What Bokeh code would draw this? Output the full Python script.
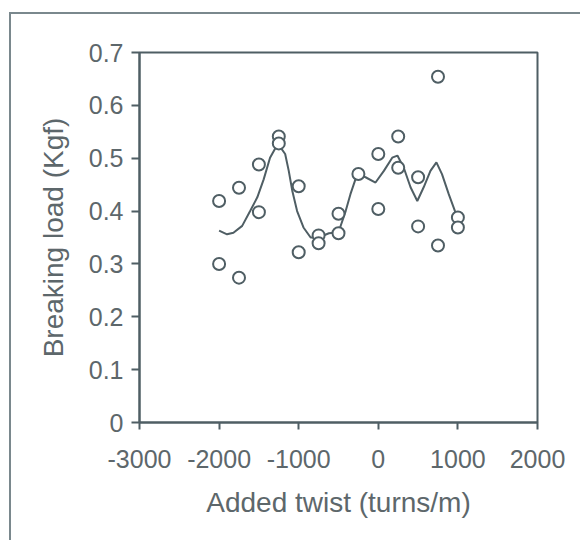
from bokeh.plotting import figure
from bokeh.models import Range1d, FixedTicker
from bokeh.embed import file_html
from bokeh.resources import INLINE

# Scatter data: added twist (turns/m) vs breaking load (Kgf)
twist = [-2000, -2000, -1750, -1750, -1500, -1500, -1250, -1250, -1000, -1000,
         -750, -750, -500, -500, -250, 0, 0, 250, 250, 500, 500, 750, 750, 1000, 1000]
load = [0.419, 0.300, 0.444, 0.274, 0.488, 0.398, 0.541, 0.528, 0.447, 0.322,
        0.354, 0.339, 0.395, 0.358, 0.470, 0.508, 0.404, 0.541, 0.482, 0.464,
        0.371, 0.654, 0.335, 0.388, 0.369]

# Smoothed trend line
curve_x = [-2000, -1900, -1820, -1710, -1610, -1520, -1440, -1360, -1290, -1240,
           -1170, -1125, -1080, -1020, -940, -850, -750, -620, -500, -410, -350,
           -265, -160, -35, 70, 175, 240, 320, 405, 490, 570, 655, 730, 800, 885,
           970, 1000]
curve_y = [0.363, 0.356, 0.359, 0.372, 0.400, 0.426, 0.460, 0.501, 0.520, 0.523,
           0.508, 0.476, 0.438, 0.400, 0.369, 0.350, 0.350, 0.358, 0.360, 0.400,
           0.432, 0.470, 0.464, 0.454, 0.476, 0.501, 0.505, 0.482, 0.445, 0.419,
           0.445, 0.476, 0.492, 0.470, 0.432, 0.397, 0.390]

x_ticks = [-3000, -2000, -1000, 0, 1000, 2000]
x_tick_labels = ["-3000", "-2000", "-1000", "0", "1000", "2000"]
y_ticks = [0, 0.1, 0.2, 0.3, 0.4, 0.5, 0.6, 0.7]
y_tick_labels = ["0", "0.1", "0.2", "0.3", "0.4", "0.5", "0.6", "0.7"]

LINE = "#4f5e64"
TEXT = "#5d676b"
FONT = "Liberation Sans"

p = figure(width=571, height=528, output_backend="svg", toolbar_location=None,
           x_range=Range1d(-3000, 2000), y_range=Range1d(0, 0.7),
           min_border_left=128, min_border_top=38, min_border_right=45,
           min_border_bottom=120,
           styles={"border-left": "2px solid #7a888d", "border-top": "2px solid #7a888d",
                   "margin-left": "9px", "margin-top": "12px"})

p.grid.visible = False
p.outline_line_color = LINE
p.outline_line_width = 2
p.outline_line_alpha = 1

p.line(curve_x, curve_y, line_color=LINE, line_width=2)
p.scatter(twist, load, marker="circle", size=12, fill_color="white",
          line_color=LINE, line_width=2)

p.xaxis.ticker = FixedTicker(ticks=x_ticks)
p.xaxis.major_label_overrides = dict(zip(x_ticks, x_tick_labels))
p.yaxis.ticker = FixedTicker(ticks=y_ticks)
p.yaxis.major_label_overrides = dict(zip(y_ticks, y_tick_labels))

p.xaxis.axis_label = "Added twist (turns/m)"
p.yaxis.axis_label = "Breaking load (Kgf)"

for ax in (p.xaxis[0], p.yaxis[0]):
    ax.axis_line_color = LINE
    ax.axis_line_width = 2
    ax.major_tick_line_color = LINE
    ax.major_tick_line_width = 2
    ax.major_tick_in = 0
    ax.minor_tick_line_color = None
    ax.major_label_text_font = FONT
    ax.major_label_text_font_size = "25px"
    ax.major_label_text_color = TEXT
    ax.axis_label_text_font = FONT
    ax.axis_label_text_font_size = "28px"
    ax.axis_label_text_font_style = "normal"
    ax.axis_label_text_color = TEXT

p.xaxis.major_tick_out = 7
p.yaxis.major_tick_out = 8
p.xaxis.major_label_standoff = 20
p.yaxis.major_label_standoff = 8
p.xaxis.axis_label_standoff = 16
p.yaxis.axis_label_standoff = 17

open("out.html", "w").write(file_html(p, INLINE))
